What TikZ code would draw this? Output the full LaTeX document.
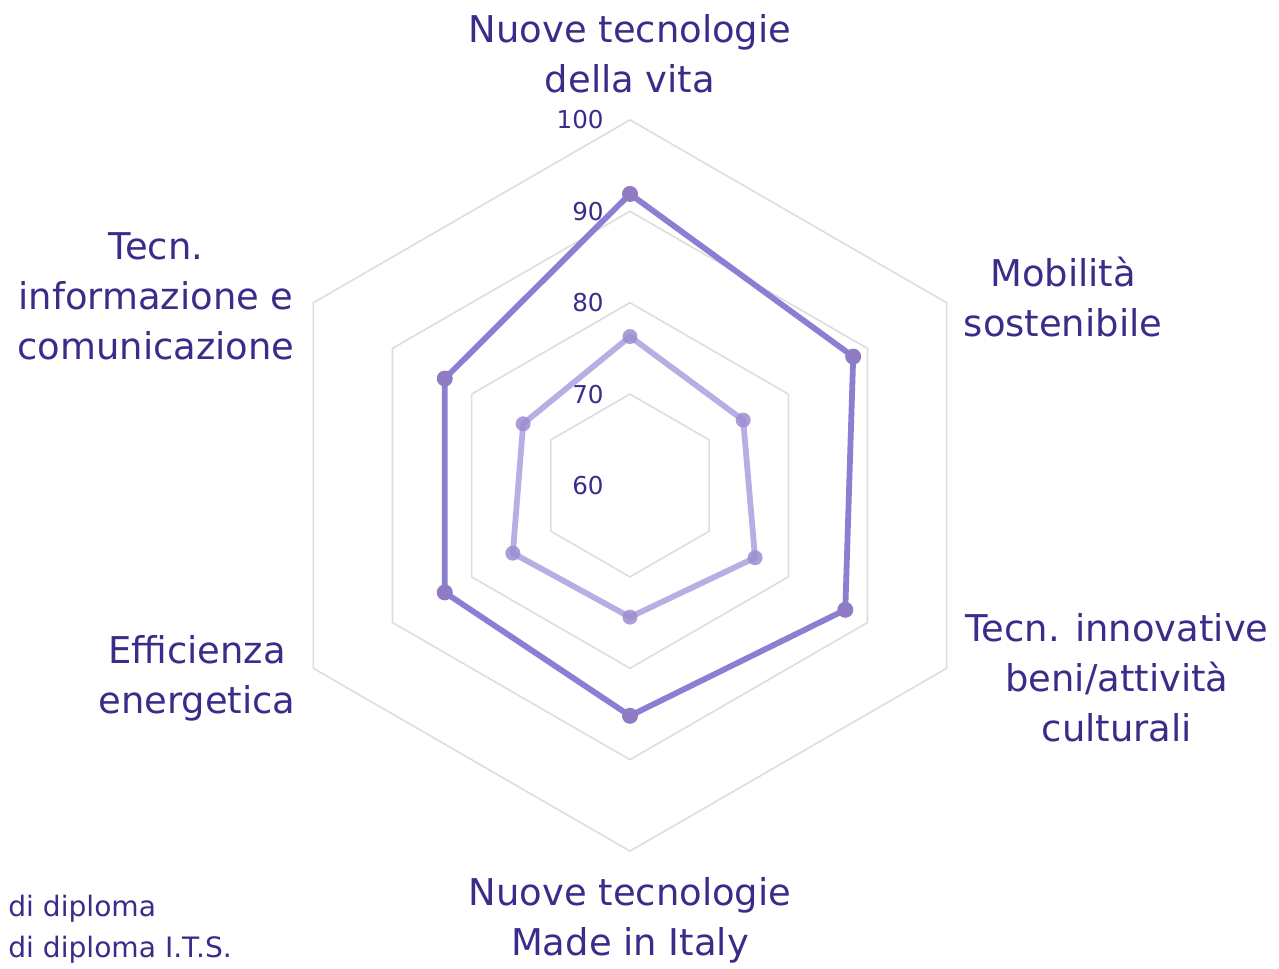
\documentclass[tikz,border=0pt]{standalone}
\usepackage{fontspec}
\setmainfont{DejaVu Sans}
\definecolor{labelpurple}{HTML}{3D2B8A}
\definecolor{gridgrey}{HTML}{DDDDDD}
\definecolor{darkline}{HTML}{8B7FD3}
\definecolor{darkmark}{HTML}{8F7CC4}
\definecolor{lightline}{HTML}{B8AEE4}
\definecolor{lightmark}{HTML}{9C8CD0}
\begin{document}
\begin{tikzpicture}[x=0.02cm, y=0.02cm]
			\tikzstyle{grid}    = [draw=gridgrey, line width=0.9pt, line join=miter]
			\tikzstyle{axislab} = [text=labelpurple, align=center, font=\fontsize{21}{28.35}\selectfont]
			\tikzstyle{ticklab} = [text=labelpurple, anchor=east, inner sep=0pt, font=\fontsize{14}{16}\selectfont]
			\tikzstyle{legend}  = [text=labelpurple, anchor=west, inner sep=0pt, font=\fontsize{16}{19}\selectfont]
			\tikzstyle{darkser} = [draw=darkline, line width=3.3pt, line join=round]
			\tikzstyle{lightser}= [draw=lightline, line width=3.3pt, line join=round]

			\useasboundingbox (-630, -482.5) rectangle (649, 485.5);

			% rings 70 .. 100
			\foreach \r in {1,...,4}
				\draw[grid] (90:\r*91.4) -- (30:\r*91.4) -- (-30:\r*91.4) -- (-90:\r*91.4)
					-- (-150:\r*91.4) -- (150:\r*91.4) -- cycle;

			\foreach \v/\r in {60/0, 70/1, 80/2, 90/3, 100/4}
				\node[ticklab] (t\v) at (-26, \r*91.4) {\v};

			% points
			\foreach \i/\ang/\v in {1/90/91.9, 2/30/88.2, 3/-30/87.2, 4/-90/85.2, 5/-150/83.4, 6/150/83.4}
				\coordinate (d\i) at (\ang:{(\v-60)*9.14});
			\foreach \i/\ang/\v in {1/90/76.3, 2/30/74.3, 3/-30/75.8, 4/-90/74.4, 5/-150/74.8, 6/150/73.5}
				\coordinate (l\i) at (\ang:{(\v-60)*9.14});

			\draw[lightser] (l1) -- (l2) -- (l3) -- (l4) -- (l5) -- (l6) -- cycle;
			\draw[darkser] (d1) -- (d2) -- (d3) -- (d4) -- (d5) -- (d6) -- cycle;

			\foreach \i in {1,...,6} {
				\fill[lightmark, opacity=0.85] (l\i) circle (7.5);
				\fill[darkmark] (d\i) circle (8);
			}

			\node[axislab] (vita) at (0, 431.5) {Nuove tecnologie\\della vita};
			\node[axislab] (mob) at (433, 188.5) {Mobilità\\sostenibile};
			\node[axislab] (cult) at (487, -192.5) {Tecn. innovative\\beni/attività\\culturali};
			\node[axislab] (italy) at (0, -434.5) {Nuove tecnologie\\Made in Italy};
			\node[axislab] (energ) at (-433, -192.5) {Efficienza\\energetica};
			\node[axislab] (ict) at (-474, 189.5) {Tecn.\\informazione e\\comunicazione};

			\node[legend] (leg1) at (-622, -423.5) {di diploma};
			\node[legend] (leg2) at (-622, -464.5) {di diploma I.T.S.};
		\end{tikzpicture}
\end{document}
